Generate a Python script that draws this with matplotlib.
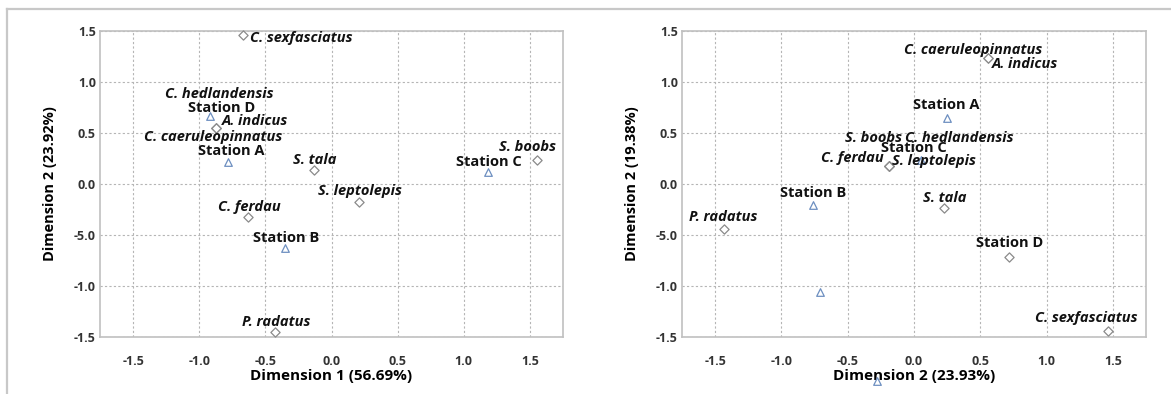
import matplotlib
matplotlib.use("Agg")
import matplotlib.pyplot as plt
from matplotlib.lines import Line2D

plt.rcParams["font.family"] = ["Open Sans", "DejaVu Sans"]

# tick labels as printed in the figure (note the "-5.0" typo of the original)
x_ticks = [-1.5, -1.0, -0.5, 0.0, 0.5, 1.0, 1.5]
x_ticklabels = ["-1.5", "-1.0", "-0.5", "0.0", "0.5", "1.0", "1.5"]
y_ticks = [1.5, 1.0, 0.5, 0.0, -0.5, -1.0, -1.5]
y_ticklabels = ["1.5", "1.0", "0.5", "0.0", "-5.0", "-1.0", "-1.5"]

# panel 1 : dimension 1 vs dimension 2
p1_species = ["C. sexfasciatus", "C. hedlandensis", "A. indicus", "C. caeruleopinnatus",
              "S. tala", "S. leptolepis", "C. ferdau", "P. radatus", "S. boobs"]
p1_species_x = [-0.67, -0.87, -0.87, -0.87, -0.13, 0.21, -0.63, -0.43, 1.55]
p1_species_y = [1.46, 0.55, 0.55, 0.55, 0.14, -0.18, -0.32, -1.45, 0.24]
p1_stations = ["Station D", "Station A", "Station B", "Station C"]
p1_stations_x = [-0.92, -0.78, -0.35, 1.18]
p1_stations_y = [0.67, 0.22, -0.63, 0.12]

# panel 2 : dimension 2 vs dimension 3
p2_species = ["C. caeruleopinnatus", "A. indicus", "S. boobs", "C. hedlandensis",
              "C. ferdau", "S. leptolepis", "S. tala", "Station D", "C. sexfasciatus", "P. radatus"]
p2_species_x = [0.56, 0.56, -0.19, -0.19, -0.19, -0.19, 0.23, 0.72, 1.46, -1.43]
p2_species_y = [1.24, 1.24, 0.18, 0.18, 0.18, 0.18, -0.24, -0.72, -1.44, -0.44]
p2_stations = ["Station A", "Station C", "Station B", "", ""]
p2_stations_x = [0.25, 0.05, -0.76, -0.71, -0.28]
p2_stations_y = [0.65, 0.24, -0.21, -1.06, -1.93]

# label placement (offset in pixels, ha)
p1_offsets = {
    "C. sexfasciatus": (7, -3, "left"), "C. hedlandensis": (3, 34, "center"),
    "A. indicus": (5, 7, "left"), "C. caeruleopinnatus": (-3, -9, "center"),
    "S. tala": (0, 10, "center"), "S. leptolepis": (1, 11, "center"),
    "C. ferdau": (1, 10, "center"), "P. radatus": (2, 10, "center"),
    "S. boobs": (-9, 13, "center"), "Station D": (12, 8, "center"),
    "Station A": (3, 11, "center"), "Station B": (1, 10, "center"),
    "Station C": (1, 10, "center"),
}
p2_offsets = {
    "C. caeruleopinnatus": (-15, 8, "center"), "A. indicus": (4, -6, "left"),
    "S. boobs": (13, 28, "right"), "C. hedlandensis": (16, 28, "left"),
    "C. ferdau": (-5, 8, "right"), "S. leptolepis": (3, 5, "left"),
    "S. tala": (0, 10, "center"), "Station D": (0, 14, "center"),
    "C. sexfasciatus": (-21, 13, "center"), "P. radatus": (-1, 12, "center"),
    "Station A": (-1, 13, "center"), "Station C": (-7, 12, "center"),
    "Station B": (0, 12, "center"),
}

W, H = 1171, 394
fig = plt.figure(figsize=(W / 100, H / 100), dpi=100)

# outer frame lines of the original image
fig.add_artist(Line2D([7 / W, 1], [1 - 9 / H, 1 - 9 / H], color="#c8c8c8", lw=1.6, transform=fig.transFigure))
fig.add_artist(Line2D([7 / W, 7 / W], [0, 1 - 9 / H], color="#c8c8c8", lw=1.6, transform=fig.transFigure))

ax1 = fig.add_axes([100 / W, 57 / H, 463 / W, 306 / H])
ax2 = fig.add_axes([682 / W, 57 / H, 464 / W, 306 / H])


def style(ax, xlabel, ylabel):
    ax.set_xlim(-1.75, 1.75)
    ax.set_ylim(-1.5, 1.5)
    ax.set_xticks(x_ticks)
    ax.set_xticklabels(x_ticklabels)
    ax.set_yticks(y_ticks)
    ax.set_yticklabels(y_ticklabels)
    ax.tick_params(length=0, labelsize=9, colors="#333333", pad=3)
    ax.tick_params(axis="x", pad=13)
    for lab in ax.get_xticklabels() + ax.get_yticklabels():
        lab.set_fontweight("bold")
    ax.grid(True, linestyle=(0, (2, 2)), color="#b5b5b5", lw=0.8)
    for sp in ax.spines.values():
        sp.set_color("#c0c0c0")
        sp.set_linewidth(1.2)
    ax.set_xlabel(xlabel, fontsize=11, fontweight="bold", labelpad=1)
    ax.set_ylabel(ylabel, fontsize=10.5, fontweight="bold", labelpad=12)


def draw(ax, sp_names, sp_x, sp_y, st_names, st_x, st_y, offsets):
    ax.scatter(sp_x, sp_y, marker="D", s=22, facecolor="white", edgecolor="#8a8a8a",
               linewidth=0.9, zorder=3, clip_on=False)
    ax.scatter(st_x, st_y, marker="^", s=30, facecolor="white", edgecolor="#6d8fc0",
               linewidth=0.9, zorder=3, clip_on=False)
    for names, xs, ys, italic in [(sp_names, sp_x, sp_y, True), (st_names, st_x, st_y, False)]:
        for n, x, y in zip(names, xs, ys):
            if not n:
                continue
            dx, dy, ha = offsets[n]
            ax.annotate(n, (x, y), xytext=(dx, dy), textcoords="offset pixels",
                        ha=ha, va="center", fontsize=10.5, fontweight="bold",
                        fontstyle="italic" if (italic and not n.startswith("Station")) else "normal",
                        color="#111111", zorder=4)


style(ax1, "Dimension 1 (56.69%)", "Dimension 2 (23.92%)")
draw(ax1, p1_species, p1_species_x, p1_species_y, p1_stations, p1_stations_x, p1_stations_y, p1_offsets)
style(ax2, "Dimension 2 (23.93%)", "Dimension 2 (19.38%)")
draw(ax2, p2_species, p2_species_x, p2_species_y, p2_stations, p2_stations_x, p2_stations_y, p2_offsets)

fig.savefig("out.png", dpi=100)
